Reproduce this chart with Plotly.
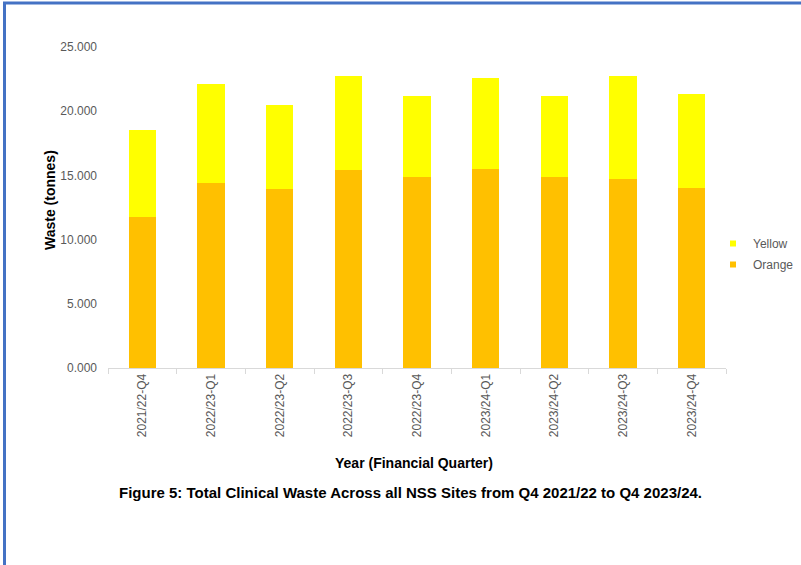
import plotly.graph_objects as go

# Quarterly clinical waste by stream (tonnes)
quarters = ["2021/22-Q4", "2022/23-Q1", "2022/23-Q2", "2022/23-Q3", "2022/23-Q4",
            "2023/24-Q1", "2023/24-Q2", "2023/24-Q3", "2023/24-Q4"]
orange = [11.75, 14.42, 13.95, 15.41, 14.91, 15.48, 14.86, 14.71, 14.03]
yellow = [6.77, 7.68, 6.51, 7.31, 6.25, 7.09, 6.36, 8.01, 7.32]

ORANGE_C = "#FFC000"
YELLOW_C = "#FFFF00"
FONT = "Arial, Liberation Sans, sans-serif"
GREY = "#595959"

fig = go.Figure()
fig.add_trace(go.Bar(x=quarters, y=orange, name="Orange", marker=dict(color=ORANGE_C, line_width=0),
                     showlegend=False))
fig.add_trace(go.Bar(x=quarters, y=yellow, name="Yellow", marker=dict(color=YELLOW_C, line_width=0),
                     showlegend=False))

# small square legend keys
fig.add_trace(go.Scatter(x=[None], y=[None], mode="markers", name="Yellow", legendgroup="y",
                         marker=dict(symbol="square", size=6, color=YELLOW_C)))
fig.add_trace(go.Scatter(x=[None], y=[None], mode="markers", name="Orange", legendgroup="o",
                         marker=dict(symbol="square", size=6, color=ORANGE_C)))

W, H = 801, 565
L, R, T, B = 108, 75, 47, 197
pw, ph = W - L - R, H - T - B


def px(x):
    return (x - L) / pw


def py(y):
    return (H - B - y) / ph


fig.update_layout(
    width=W, height=H,
    margin=dict(l=L, r=R, t=T, b=B, autoexpand=False),
    paper_bgcolor="white", plot_bgcolor="white",
    barmode="stack", bargap=0.6,
    font=dict(family=FONT, size=12, color=GREY),
    legend=dict(x=px(713), y=py(229), xanchor="left", yanchor="top",
                traceorder="grouped", tracegroupgap=2,
                font=dict(family=FONT, size=12, color=GREY), bgcolor="rgba(0,0,0,0)"),
    xaxis=dict(showgrid=False, showline=True, linecolor="#D9D9D9", linewidth=1,
               ticks="outside", ticklen=5, tickcolor="#D9D9D9", tickson="boundaries",
               tickangle=-90, tickfont=dict(family=FONT, size=12, color=GREY)),
    yaxis=dict(range=[0, 25], dtick=5, tickformat=".3f", showgrid=False, showline=False,
               zeroline=False, ticks="", ticklabelstandoff=10,
               tickfont=dict(family=FONT, size=12, color=GREY)),
    annotations=[
        dict(text="<b>Waste (tonnes)</b>", textangle=-90, xref="paper", yref="paper",
             x=px(50), y=py(200), xanchor="center", yanchor="middle", showarrow=False,
             font=dict(family=FONT, size=14, color="black")),
        dict(text="<b>Year (Financial Quarter)</b>", xref="paper", yref="paper",
             x=px(414), y=py(463), xanchor="center", yanchor="middle", showarrow=False,
             font=dict(family=FONT, size=14, color="black")),
        dict(text="<b>Figure 5: Total Clinical Waste Across all NSS Sites from Q4 2021/22 to Q4 2023/24.</b>",
             xref="paper", yref="paper", x=px(410), y=py(492), xanchor="center", yanchor="middle",
             showarrow=False, font=dict(family=FONT, size=15, color="black")),
    ],
    shapes=[
        dict(type="line", xref="paper", yref="paper", x0=px(3), x1=px(820), y0=py(3), y1=py(3),
             line=dict(color="#4472C4", width=3)),
        dict(type="line", xref="paper", yref="paper", x0=px(4.5), x1=px(4.5), y0=py(2), y1=py(580),
             line=dict(color="#4472C4", width=3)),
    ],
)

fig.write_html("out.html")
